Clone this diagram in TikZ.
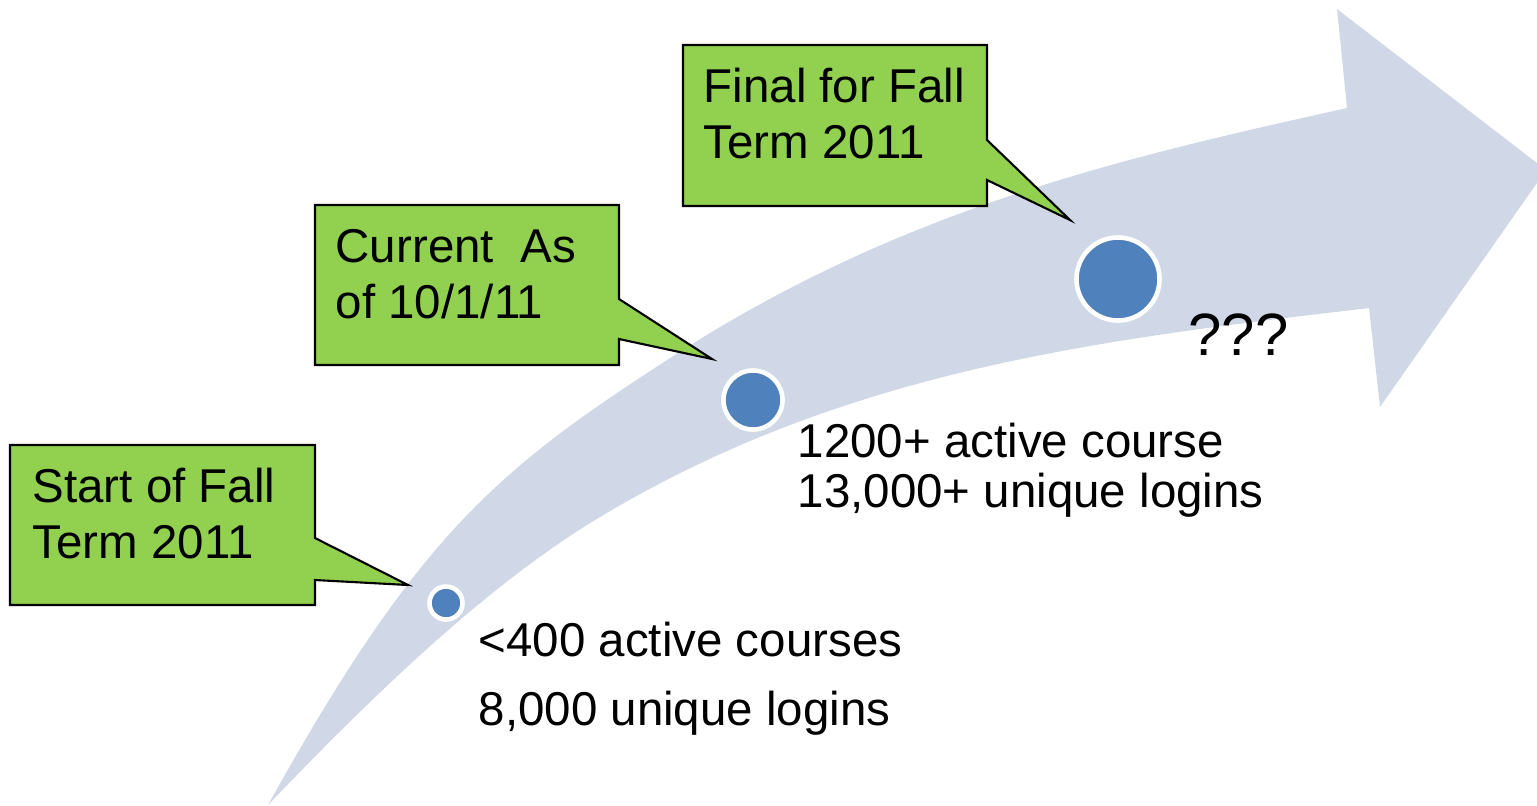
\documentclass[tikz,border=0pt]{standalone}
\usepackage{fontspec}
\setmainfont{Liberation Sans}
\definecolor{arrowfill}{HTML}{D0D8E8}
\definecolor{notegreen}{HTML}{92D050}
\definecolor{dotblue}{HTML}{4F81BD}
\tikzset{
  note/.style={draw=black, fill=notegreen, line width=0.6pt, line join=miter},
  notetext/.style={anchor=base west, align=left, inner sep=0pt, font=\fontsize{13.5}{15.9}\selectfont},
  dot/.style={circle, draw=white, fill=dotblue, inner sep=0pt, line width=1.3pt},
  info/.style={anchor=base west, align=left, inner sep=0pt}
}

\begin{document}
\begin{tikzpicture}[x=0.01cm, y=-0.01cm]
\useasboundingbox (0,0) rectangle (1537,805);
\clip (0,0) rectangle (1537,805);
% curved arrow
\fill[arrowfill] (268,805) .. controls (418,535) and (497,470) .. (667,360)
  .. controls (897,210) and (1117,159) .. (1347,108)
  -- (1337,9) -- (1546,170) -- (1380,407) -- (1369,308)
  .. controls (1109,339) and (850,367) .. (600,517)
  .. controls (490,583) and (378,690) .. (268,805) -- cycle;
% dots
\node[dot, minimum size=0.33cm] (start) at (446,603) {};
\node[dot, minimum size=0.59cm] (now) at (753,400) {};
\node[dot, minimum size=0.83cm] (final) at (1118,279) {};
% callouts
\draw[note] (10,445) -- (315,445) -- (315,538) -- (408,585) -- (315,580) -- (315,605) -- (10,605) -- cycle;
\node[notetext] (startnote) at (32,558) {Start of Fall\\Term 2011};
\draw[note] (315,205) -- (619,205) -- (619,299) -- (712,359) -- (619,339) -- (619,365) -- (315,365) -- cycle;
\node[notetext] (nownote) at (335,318) {Current\ \ As\\of 10/1/11};
\draw[note] (683,45) -- (987,45) -- (987,140) -- (1070,220) -- (987,180) -- (987,206) -- (683,206) -- cycle;
\node[notetext] (finalnote) at (703,158) {Final for Fall\\Term 2011};
% numbers
\node[info, font=\fontsize{13.5}{19.4}\selectfont] (startinfo) at (478,725) {<400 active courses\\8,000 unique logins};
\node[info, font=\fontsize{13.5}{14.2}\selectfont] (nowinfo) at (797,507) {1200+ active course\\13,000+ unique logins};
\node[info, font=\fontsize{17}{20}\selectfont] (finalinfo) at (1188,355) {???};
\end{tikzpicture}
\end{document}
